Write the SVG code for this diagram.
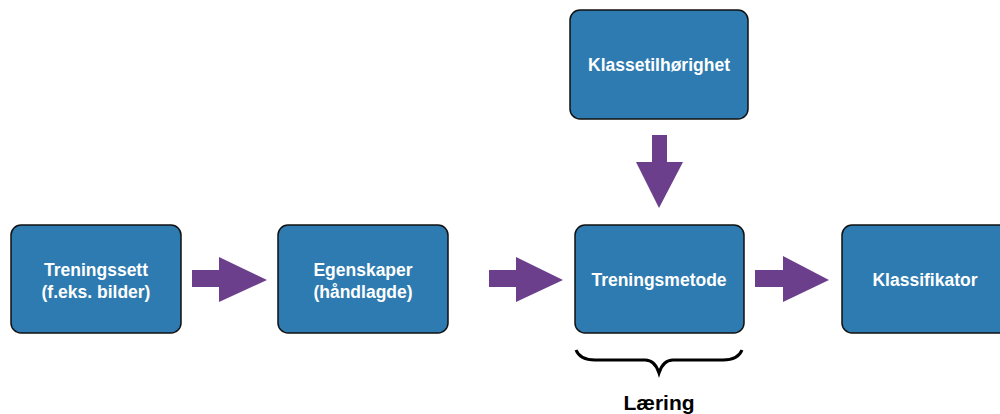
<svg xmlns="http://www.w3.org/2000/svg" width="1000" height="414" viewBox="0 0 1000 414">
<defs>
<style>
.box{fill:#2d7bb0;stroke:#111;stroke-width:1.5}
.lbl{fill:#fff;font-family:"Liberation Sans",Arial,sans-serif;font-weight:bold;font-size:17.5px;text-anchor:middle}
.arr{fill:#6c3f8d}
.cap{fill:#000;font-family:"Liberation Sans",Arial,sans-serif;font-weight:bold;font-size:21px;text-anchor:middle}
</style>
</defs>
<rect width="1000" height="414" fill="#fff"/>
<g id="n1"><rect class="box" x="11" y="225" width="170" height="108" rx="10"/><text class="lbl" x="96" y="276">Treningssett</text><text class="lbl" x="96" y="298">(f.eks. bilder)</text></g>
<g id="n2"><rect class="box" x="278" y="225" width="170" height="108" rx="10"/><text class="lbl" x="363" y="276">Egenskaper</text><text class="lbl" x="363" y="298">(håndlagde)</text></g>
<g id="n3"><rect class="box" x="575" y="225" width="169" height="108" rx="10"/><text class="lbl" x="659" y="286">Treningsmetode</text></g>
<g id="n4"><rect class="box" x="842" y="225" width="170" height="108" rx="10"/><text class="lbl" x="925" y="286">Klassifikator</text></g>
<g id="n5"><rect class="box" x="570" y="10" width="178" height="109" rx="10"/><text class="lbl" x="659" y="71">Klassetilhørighet</text></g>
<g id="connectors">
<polygon class="arr" points="192,270 219,270 219,257 267,280 219,302 219,287 192,287"/>
<polygon class="arr" points="489,270 516,270 516,257 563,280 516,302 516,287 489,287"/>
<polygon class="arr" points="755,270 783,270 783,256 829,280 783,302 783,287 755,287"/>
<polygon class="arr" points="652,135 667,135 667,162 683,162 659,208 636,162 652,162"/>
</g>
<g id="brace"><path d="M576,350 Q580,360 595,360 L645,360 Q655,360 659,373 Q663,360 673,360 L723,360 Q738,360 742,350" fill="none" stroke="#000" stroke-width="3"/><text class="cap" x="659" y="410">Læring</text></g>
</svg>
